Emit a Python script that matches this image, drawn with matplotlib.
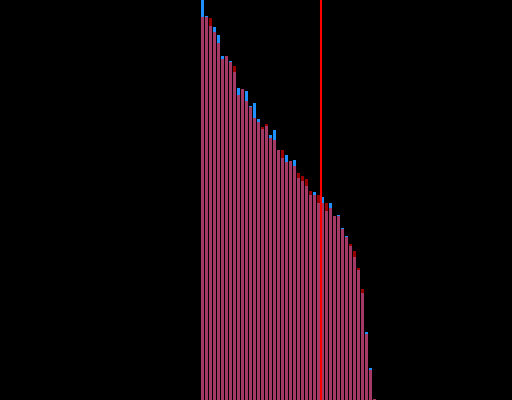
import numpy as np
import matplotlib
matplotlib.use("Agg")
import matplotlib.pyplot as plt

# Two overlaid series, ranked left to right
blue_vals = [100, 96, 93.5, 93.25, 91.25, 86, 86, 84.75, 82, 78,
             77.75, 77.25, 73.5, 74.25, 70.25, 67.75, 68.5, 66.25, 67.5, 62.5,
             60.5, 61.25, 59.75, 60, 55.5, 54.75, 53.5, 51.25, 52, 49.25,
             50.75, 47.25, 49.25, 46, 46.25, 43, 41, 38.5, 35.75, 32.5,
             26.75, 17, 8, 0.25]
red_vals = [95.75, 95.75, 95.5, 92, 89.25, 85.25, 86, 84.5, 83.5, 76.25,
            77.75, 74.75, 73.25, 70.5, 69.5, 68.25, 69, 65.5, 65, 62.5,
            62.5, 59.5, 59.75, 58.5, 56.75, 56, 55.25, 52.25, 51.25, 51.25,
            49.25, 49.25, 48, 46, 46, 42.75, 40.75, 39, 37.25, 33,
            27.75, 16.5, 7.5, 0.25]
cutoff = 29.5

BG = "#000000"
BLUE = "#1e90ff"
RED = "#ff0000"

fig = plt.figure(figsize=(5.12, 4.0), dpi=100, facecolor=BG)
ax = fig.add_axes([0, 0, 1, 1])
ax.set_facecolor(BG)

xs = np.arange(len(blue_vals))
ax.bar(xs, blue_vals, width=0.75, color=BLUE, linewidth=0, zorder=2)
ax.bar(xs, red_vals, width=0.75, color=RED, alpha=0.6, linewidth=0, zorder=3)
ax.axvline(cutoff, color=RED, linewidth=1.5, zorder=5)

ax.set_xlim(-50.625, 77.375)
ax.set_ylim(0, 100)
ax.axis("off")

fig.savefig("out.png", dpi=100, facecolor=BG)
